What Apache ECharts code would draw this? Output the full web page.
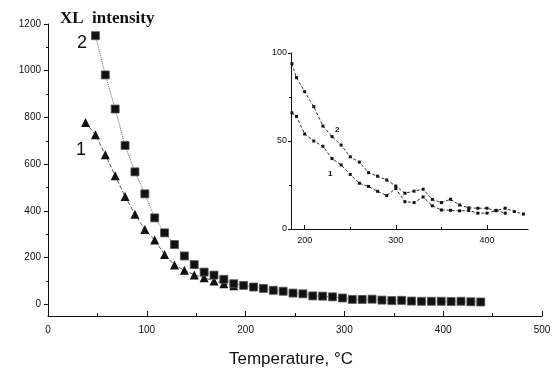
<!DOCTYPE html>
<html><head><meta charset="utf-8">
<script src="https://cdn.jsdelivr.net/npm/echarts@6/dist/echarts.min.js"></script>
<style>html,body{margin:0;padding:0;background:#fff}#c{width:555px;height:369px}</style>
</head><body><div id="c"></div>
<script>
// Main chart, curve 2 (squares)
const tempSq = [48,58,68,78,88,98,108,118,128,138,148,158,168,178,188,198,208,218,228,238,248,258,268,278,288,298,308,318,328,338,348,358,368,378,388,398,408,418,428,438];
const valSq  = [1150,982,836,680,567,473,370,306,256,207,170,138,125,107,88,81,74,68,60,56,48,45,36,35,32,27,21,21,22,18,16,17,14,13,13,13,12,13,11,10];
// Main chart, curve 1 (triangles)
const tempTri = [38,48,58,68,78,88,98,108,118,128,138,148,158,168,178,188];
const valTri  = [778,726,640,550,462,386,320,275,213,168,146,126,114,100,88,80];
// Inset, curve 2
const insTemp2 = [186,191,200,210,220,230,240,250,260,270,280,290,300,310,320,330,340,350,360,370,380,390,400,410,420,430,440];
const insVal2  = [94,86,78,69.5,58.5,52.5,47.7,41,38,32,30,27.8,24.4,20.3,21.5,22.6,16.8,15,16.9,13.6,12,11.8,11.8,10.4,11.8,9.9,8.5];
// Inset, curve 1
const insTemp1 = [186,191,200,210,220,230,240,250,260,270,280,290,300,310,320,330,340,350,360,370,380,390,400,410,420];
const insVal1  = [66,64,54,50,47,40,36.4,31,26,24.2,21.4,19,23,15.5,15,18.2,13.2,10.8,10.6,10.3,10.5,9,9,10.6,9];
// Tick labels
const mainYTicks = [0,200,400,600,800,1000,1200];
const mainYMinor = [100,300,500,700,900,1100];
const insXTicks = [200,300,400];
const insXMinor = [250,350];
const insYTicks = [0,50,100];
const insYMinor = [25,75];

const pairs = (xs, ys) => xs.map((x, i) => [x, ys[i]]);
const ink = '#111';
const lblFont = 'Liberation Sans';
const plain = v => String(v);

const chart = echarts.init(document.getElementById('c'), null, {renderer: 'canvas'});
chart.setOption({
  animation: false,
  backgroundColor: '#fff',
  grid: [
    {left: 48, right: 13, top: 24, bottom: 53, outerBoundsMode: 'none'},
    {left: 291, right: 27, top: 53, bottom: 140, outerBoundsMode: 'none'}
  ],
  xAxis: [
    {gridIndex: 0, type: 'value', min: 0, max: 500, interval: 100,
     axisLine: {onZero: false, lineStyle: {color: ink, width: 1}},
     axisTick: {inside: true, length: 5, lineStyle: {color: ink}},
     minorTick: {show: true, splitNumber: 2, length: 3, lineStyle: {color: ink}},
     splitLine: {show: false}, minorSplitLine: {show: false},
     axisLabel: {color: ink, fontSize: 10, fontFamily: lblFont, margin: 9, formatter: plain}},
    {gridIndex: 1, type: 'value', min: 185, max: 445,
     axisLine: {onZero: false, lineStyle: {color: ink, width: 1}},
     axisTick: {inside: true, length: 4, customValues: insXTicks, lineStyle: {color: ink}},
     splitLine: {show: false},
     axisLabel: {customValues: insXTicks, color: ink, fontSize: 9, fontFamily: lblFont, margin: 7, formatter: plain}},
    {gridIndex: 1, type: 'value', min: 185, max: 445, position: 'bottom',
     axisLine: {show: false},
     axisTick: {inside: true, length: 2, customValues: insXMinor, lineStyle: {color: ink}},
     splitLine: {show: false}, axisLabel: {show: false}}
  ],
  yAxis: [
    {gridIndex: 0, type: 'value', min: -50, max: 1200, position: 'left',
     axisLine: {show: true, onZero: false, lineStyle: {color: ink, width: 1}},
     axisTick: {show: true, inside: false, length: 4, customValues: mainYTicks, lineStyle: {color: ink}},
     splitLine: {show: false},
     axisLabel: {customValues: mainYTicks, color: ink, fontSize: 10, fontFamily: lblFont, margin: 7, formatter: plain}},
    {gridIndex: 0, type: 'value', min: -50, max: 1200, position: 'left',
     axisLine: {show: false},
     axisTick: {show: true, inside: false, length: 2, customValues: mainYMinor, lineStyle: {color: ink}},
     splitLine: {show: false}, axisLabel: {show: false}},
    {gridIndex: 1, type: 'value', min: 0, max: 100, position: 'left',
     axisLine: {show: true, onZero: false, lineStyle: {color: ink, width: 1}},
     axisTick: {show: true, inside: false, length: 3, customValues: insYTicks, lineStyle: {color: ink}},
     splitLine: {show: false},
     axisLabel: {customValues: insYTicks, color: ink, fontSize: 9, fontFamily: lblFont, margin: 4, formatter: plain}},
    {gridIndex: 1, type: 'value', min: 0, max: 100, position: 'left',
     axisLine: {show: false},
     axisTick: {show: true, inside: false, length: 2, customValues: insYMinor, lineStyle: {color: ink}},
     splitLine: {show: false}, axisLabel: {show: false}}
  ],
  series: [
    {type: 'line', xAxisIndex: 0, yAxisIndex: 0, data: pairs(tempTri, valTri),
     symbol: 'triangle', symbolSize: 9, itemStyle: {color: ink},
     lineStyle: {color: '#555', width: 1, type: 'dashed'}, z: 2},
    {type: 'line', xAxisIndex: 0, yAxisIndex: 0, data: pairs(tempSq, valSq),
     symbol: 'rect', symbolSize: 8, itemStyle: {color: ink, borderColor: '#555', borderWidth: 0.8},
     lineStyle: {color: '#666', width: 1, type: 'dotted'}, z: 3},
    {type: 'line', xAxisIndex: 1, yAxisIndex: 2, data: pairs(insTemp2, insVal2),
     symbol: 'rect', symbolSize: 3, itemStyle: {color: ink},
     lineStyle: {color: '#333', width: 1, type: [3, 2]}},
    {type: 'line', xAxisIndex: 1, yAxisIndex: 2, data: pairs(insTemp1, insVal1),
     symbol: 'rect', symbolSize: 3, itemStyle: {color: ink},
     lineStyle: {color: '#333', width: 1, type: [3, 2]}}
  ],
  graphic: [
    {type: 'text', left: 60, top: 10, style: {text: 'XL  intensity', font: 'bold 17px "Liberation Serif"', fill: ink}},
    {type: 'text', left: 77, top: 34, style: {text: '2', font: '18px "Liberation Sans"', fill: ink}},
    {type: 'text', left: 76, top: 141, style: {text: '1', font: '18px "Liberation Sans"', fill: ink}},
    {type: 'text', left: 335, top: 126, style: {text: '2', font: 'bold 8px "Liberation Sans"', fill: ink}},
    {type: 'text', left: 328, top: 170, style: {text: '1', font: 'bold 8px "Liberation Sans"', fill: ink}},
    {type: 'text', left: 229, top: 351, style: {text: 'Temperature, °C', font: '17px "Liberation Sans"', fill: ink}}
  ]
});
</script></body></html>
